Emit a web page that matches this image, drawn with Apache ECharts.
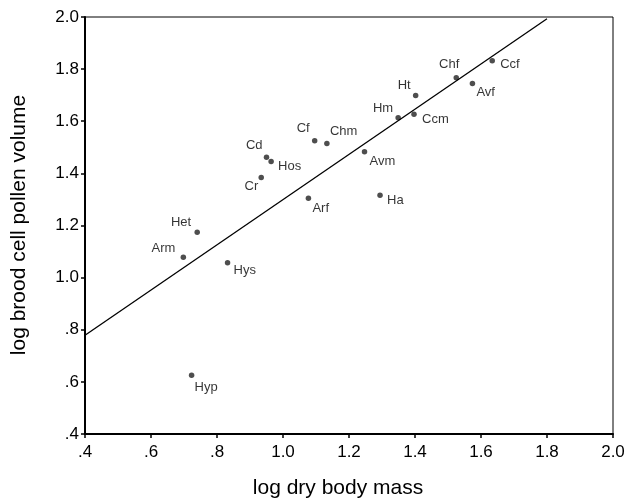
<!DOCTYPE html>
<html>
<head>
<meta charset="utf-8">
<script src="https://cdn.jsdelivr.net/npm/echarts@6/dist/echarts.min.js"></script>
<style>
html,body{margin:0;padding:0;background:#fff;}
#chart{width:628px;height:498px;}
</style>
</head>
<body>
<div id="chart"></div>
<script>
// ---- data ----
var species = ['Ccf','Chf','Avf','Ht','Hm','Ccm','Cf','Chm','Avm','Cd','Hos','Cr','Arf','Ha','Het','Arm','Hys','Hyp'];
var logDryBodyMass = [1.634,1.525,1.574,1.402,1.349,1.397,1.096,1.133,1.247,0.950,0.964,0.934,1.077,1.294,0.740,0.698,0.832,0.723];
var logPollenVolume = [1.832,1.767,1.745,1.699,1.613,1.627,1.525,1.515,1.483,1.462,1.446,1.384,1.305,1.316,1.174,1.078,1.057,0.625];
var fitLineX = [0.4, 1.8];
var fitLineY = [0.779, 1.993];
var xTickValues = [0.4,0.6,0.8,1.0,1.2,1.4,1.6,1.8,2.0];
var xTickLabels = ['.4','.6','.8','1.0','1.2','1.4','1.6','1.8','2.0'];
var yTickValues = [0.4,0.6,0.8,1.0,1.2,1.4,1.6,1.8,2.0];
var yTickLabels = ['.4','.6','.8','1.0','1.2','1.4','1.6','1.8','2.0'];
var xTitle = 'log dry body mass';
var yTitle = 'log brood cell pollen volume';

// ---- label placement (layout only) ----
var labelPlacement = {
  Ccf:['left',8,4], Chf:['right',3,-13], Avf:['left',4,9], Ht:['right',-5,-10],
  Hm:['right',-5,-9], Ccm:['left',8,5], Cf:['right',-5,-12], Chm:['left',3,-12],
  Avm:['left',5,10], Cd:['right',-4,-12], Hos:['left',7,5], Cr:['right',-3,9],
  Arf:['left',4,10], Ha:['left',7,5], Het:['right',-6,-10], Arm:['right',-8,-9],
  Hys:['left',6,8], Hyp:['left',3,12]
};

function tickFmt(values, labels) {
  return function (v) {
    for (var i = 0; i < values.length; i++) {
      if (Math.abs(values[i] - v) < 1e-6) return labels[i];
    }
    return '';
  };
}

var font = "'Liberation Sans', Arial, Helvetica, sans-serif";

var points = species.map(function (name, i) {
  var p = labelPlacement[name];
  return {
    name: name,
    value: [logDryBodyMass[i], logPollenVolume[i]],
    label: { align: p[0], offset: [p[1], p[2]] }
  };
});

var chart = echarts.init(document.getElementById('chart'), null, {renderer: 'canvas'});
chart.setOption({
  animation: false,
  backgroundColor: '#fff',
  grid: {
    left: 85, right: 15, top: 17, bottom: 64,
    show: true, borderColor: '#000', borderWidth: 1, backgroundColor: 'transparent'
  },
  xAxis: {
    type: 'value', min: 0.4, max: 2.0, interval: 0.2,
    splitLine: {show: false},
    axisLine: {show: true, onZero: false, lineStyle: {color: '#000', width: 2}},
    axisTick: {show: true, inside: false, length: 4, lineStyle: {color: '#000', width: 1.5}},
    axisLabel: {color: '#000', fontSize: 17, fontFamily: font, margin: 10,
      formatter: tickFmt(xTickValues, xTickLabels), showMinLabel: true, showMaxLabel: true}
  },
  yAxis: {
    type: 'value', min: 0.4, max: 2.0, interval: 0.2,
    splitLine: {show: false},
    axisLine: {show: true, onZero: false, lineStyle: {color: '#000', width: 2}},
    axisTick: {show: true, inside: false, length: 4, lineStyle: {color: '#000', width: 1.5}},
    axisLabel: {color: '#000', fontSize: 17, fontFamily: font, margin: 6,
      formatter: tickFmt(yTickValues, yTickLabels), showMinLabel: true, showMaxLabel: true}
  },
  series: [
    {
      type: 'line',
      data: fitLineX.map(function (x, i) { return [x, fitLineY[i]]; }),
      symbol: 'none',
      silent: true,
      lineStyle: {color: '#000', width: 1.3}
    },
    {
      type: 'scatter',
      data: points,
      symbol: 'circle',
      symbolSize: 5.5,
      itemStyle: {color: '#222'},
      label: {
        show: true,
        position: 'inside',
        verticalAlign: 'middle',
        formatter: '{b}',
        color: '#000',
        fontSize: 13,
        fontFamily: font
      }
    }
  ],
  graphic: [
    {
      type: 'text', x: 338, y: 488,
      style: {text: xTitle, fill: '#000', font: '21px ' + font, align: 'center', verticalAlign: 'middle'}
    },
    {
      type: 'text', x: 19.5, y: 225, rotation: Math.PI / 2,
      style: {text: yTitle, fill: '#000', font: '21px ' + font, align: 'center', verticalAlign: 'middle'}
    }
  ]
});
</script>
</body>
</html>
